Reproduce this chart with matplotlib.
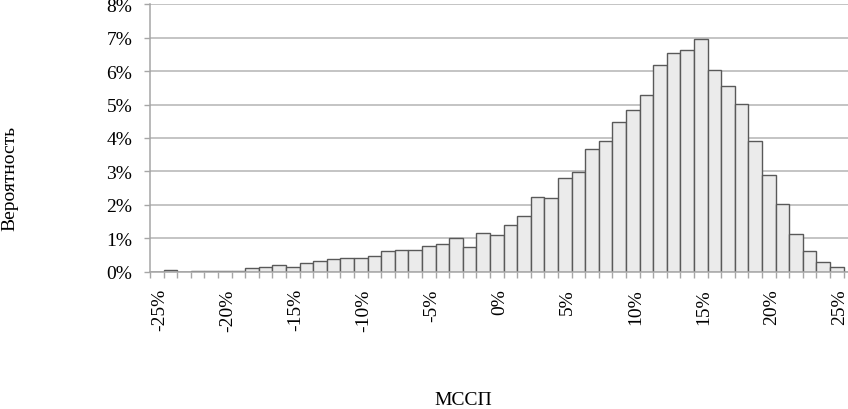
import matplotlib

matplotlib.use("Agg")
import matplotlib.pyplot as plt
import matplotlib.transforms as mtransforms
import numpy as np


# =========== DATA ===========
# MSSP bins (%), one bin per percent point
categories = list(range(-25, 26))

# Probability of each bin (%)
probabilities = [
    0.00, 0.03, 0.00, 0.02, 0.02, 0.02, 0.02, 0.09, 0.14, 0.20,
    0.13, 0.26, 0.30, 0.38, 0.41, 0.41, 0.47, 0.60, 0.65, 0.65,
    0.77, 0.81, 1.00, 0.74, 1.16, 1.10, 1.40, 1.67, 2.24, 2.20,
    2.81, 2.97, 3.67, 3.92, 4.49, 4.85, 5.29, 6.17, 6.54, 6.62,
    6.95, 6.02, 5.54, 5.02, 3.92, 2.90, 2.03, 1.13, 0.62, 0.29,
    0.12,
]

y_ticks = [0, 1, 2, 3, 4, 5, 6, 7, 8]
label_every = 5

x_title = "МССП"
y_title = "Вероятность"


# =========== METHODS ===========
def histogram_plot(output_path: str = "out.png") -> None:
    """Excel-like histogram of the MSSP distribution

    Args:
        - output_path(str): Output file

    Returns:
        - None
    """
    plt.rcParams["font.family"] = ["Liberation Serif", "DejaVu Serif"]

    fig = plt.figure(figsize=(8.48, 4.10), dpi=100)
    ax = fig.add_axes([150 / 848, 1 - 272.5 / 410, 1 - 150 / 848, (272.5 - 5.3) / 410])

    x = np.arange(len(categories))
    ax.bar(
        x,
        probabilities,
        width=1.0,
        color="#ebebeb",
        edgecolor="#595959",
        linewidth=1.0,
        zorder=3,
    )

    # Axes limits
    ax.set_xlim(-0.5, -0.5 + 698 / 13.6)
    ax.set_ylim(0, 8)

    # Y axis
    ax.set_yticks(y_ticks)
    ax.set_yticklabels([f"{v}%" for v in y_ticks])
    ax.yaxis.grid(True, color="#b4b4b4", linewidth=1.1, zorder=0)
    ax.tick_params(
        axis="y", length=4.3, width=1.0, color="#a6a6a6", pad=8.5, labelsize=14
    )

    # X axis: labels on every 5th bin, ticks on every bin boundary
    major = x[::label_every]
    ax.set_xticks(major)
    ax.set_xticklabels(
        [f"{categories[i]}%" for i in major], rotation=90, va="top", ha="center"
    )
    ax.set_xticks(np.arange(-0.5, len(categories) + 0.5, 1.0), minor=True)
    ax.tick_params(axis="x", which="major", length=0, pad=12, labelsize=14)
    ax.tick_params(axis="x", which="minor", length=4.3, width=1.0, color="#a6a6a6")

    # Small shift to the right, as in the original labels
    shift = mtransforms.ScaledTranslation(3 / 100, 0, fig.dpi_scale_trans)
    for lbl in ax.get_xticklabels():
        lbl.set_transform(lbl.get_transform() + shift)

    for side in ["top", "right"]:
        ax.spines[side].set_visible(False)
    for side in ["left", "bottom"]:
        ax.spines[side].set_color("#a6a6a6")
        ax.spines[side].set_linewidth(1.1)
        ax.spines[side].set_zorder(4)

    # Titles
    fig.text(10 / 848, 1 - 178 / 410, y_title, rotation=90, ha="center",
             va="center", fontsize=14)
    fig.text(463 / 848, 1 - 392 / 410, x_title, ha="center", va="top",
             fontsize=14)

    fig.savefig(output_path, dpi=100)


# =========== MAIN ===========
if __name__ == "__main__":
    histogram_plot("out.png")
